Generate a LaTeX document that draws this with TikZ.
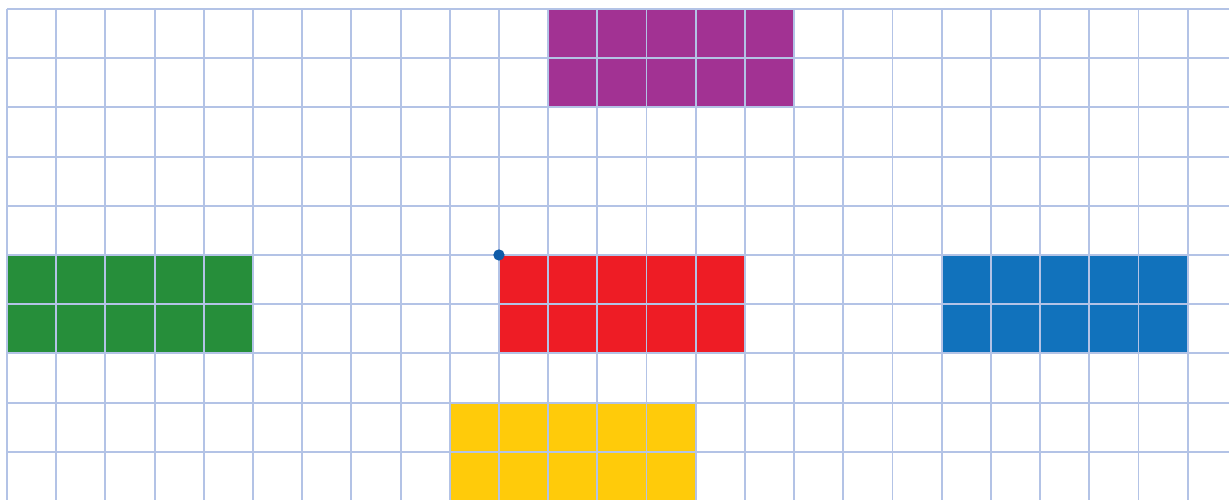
\documentclass[tikz,border=0pt]{standalone}
\definecolor{gridc}{HTML}{B3C3E6}
\definecolor{purp}{HTML}{A23293}
\definecolor{grn}{HTML}{268E3A}
\definecolor{rd}{HTML}{EE1C25}
\definecolor{blu}{HTML}{1172BC}
\definecolor{yel}{HTML}{FFCB0A}
\definecolor{dotc}{HTML}{0F5BA8}
\begin{document}
\begin{tikzpicture}[x=1cm,y=-1cm,
  gridline/.style={draw=gridc,line width=1.1pt},
  block/.style={draw=none}]
\useasboundingbox (-0.142,-0.183) rectangle (24.84,9.98);
\fill[white] (-0.142,-0.183) rectangle (24.84,9.98);
\begin{scope}
\clip (-0.142,-0.183) rectangle (24.84,9.98);
\fill[purp] (11,0) rectangle (16,2);
\fill[grn] (0,5) rectangle (5,7);
\fill[rd] (10,5) rectangle (15,7);
\fill[blu] (19,5) rectangle (24,7);
\fill[yel] (9,8) rectangle (14,10.2);
\foreach \i in {0,...,24} \draw[gridline] (\i,0) -- (\i,10.2);
\foreach \j in {0,...,9} \draw[gridline] (0,\j) -- (25,\j);
\fill[dotc] (10,5) circle (0.115);
\end{scope}
\end{tikzpicture}
\end{document}
